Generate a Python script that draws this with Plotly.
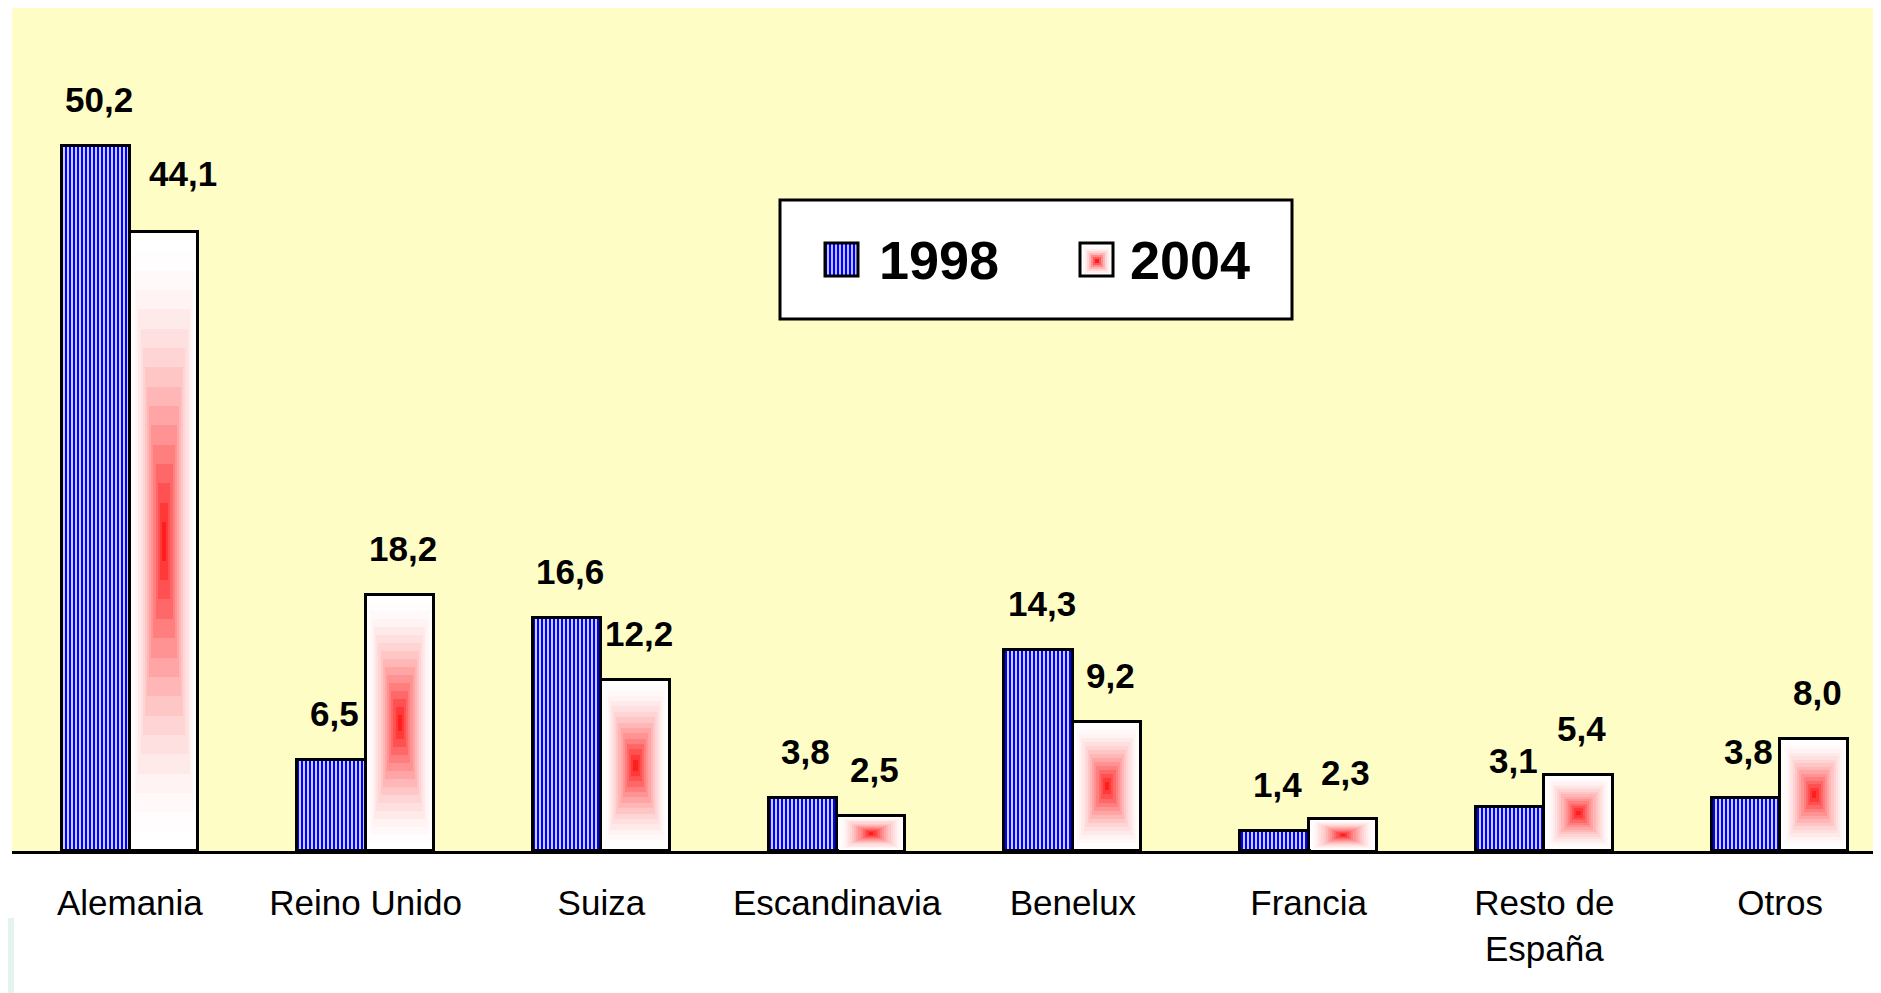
import plotly.graph_objects as go

categories = ["Alemania", "Reino Unido", "Suiza", "Escandinavia", "Benelux",
              "Francia", "Resto de<br>España", "Otros"]
v1998 = [50.2, 6.5, 16.6, 3.8, 14.3, 1.4, 3.1, 3.8]
v2004 = [44.1, 18.2, 12.2, 2.5, 9.2, 2.3, 5.4, 8.0]
series_names = ["1998", "2004"]

# the page body has an 8px margin, so the figure is a bit smaller than the window
PAGE = 8
W, H = 1881 - PAGE, 993 - PAGE
ML, MR, MT, MB = 12 - PAGE, 0, 8 - PAGE, 142
PW, PH = W - ML - MR, H - MT - MB

bw = 0.29          # width of one bar in category units
off = bw / 2
idx = list(range(len(categories)))
x98 = [i - off for i in idx]
x04 = [i + off for i in idx]


def fmt(v):
    return f"{v:.1f}".replace(".", ",")


def red_mix(a):
    g = int(round(255 - 225 * a))
    return f"rgb(255,{g},{g})"


fig = go.Figure()

# 1998: blue vertical stripes
fig.add_trace(go.Bar(
    x=x98, y=v1998, width=[bw] * len(idx), name=series_names[0],
    marker=dict(color="white",
                pattern=dict(shape="|", fgcolor="#0000ff", bgcolor="white",
                             size=4, solidity=0.6, fillmode="replace"),
                line=dict(color="black", width=3)),
    hoverinfo="skip", showlegend=False))

# 2004: rectangular gradient white -> red, drawn as nested bars
N = 16
for k in range(N):
    s = 1 - k / N
    a = (k / (N - 1)) ** 1.8
    fig.add_trace(go.Bar(
        x=x04, y=[v * s for v in v2004], base=[v * (1 - s) / 2 for v in v2004],
        width=[bw * s] * len(idx), name=series_names[1],
        marker=dict(color=red_mix(a),
                    line=dict(color="black", width=3 if k == 0 else 0)),
        hoverinfo="skip", showlegend=False))

# value labels (the first 2004 label sits a little higher and to the right)
for s_i, (xs, vals) in enumerate(((x98, v1998), (x04, v2004))):
    for c_i, (x, v) in enumerate(zip(xs, vals)):
        nudge = (s_i, c_i) == (1, 0)
        fig.add_annotation(x=x, y=v, text=f"<b>{fmt(v)}</b>", showarrow=False,
                           yanchor="bottom",
                           yshift=37 if nudge else 25,
                           xshift=19 if nudge else 3,
                           font=dict(size=35, color="black",
                                     family="Liberation Sans, Arial, sans-serif"))


# custom legend, positions given in window pixels
def px_x(p):
    return (p - PAGE - ML) / PW


def px_y(p):
    return (MT + PH - (p - PAGE)) / PH


shapes = [dict(type="rect", xref="paper", yref="paper",
               x0=px_x(780), x1=px_x(1292), y0=px_y(319), y1=px_y(200),
               fillcolor="white", line=dict(color="black", width=3))]
# 1998 icon
shapes.append(dict(type="rect", xref="paper", yref="paper",
                   x0=px_x(825), x1=px_x(858), y0=px_y(276), y1=px_y(243),
                   fillcolor="#0000ff", line=dict(width=0)))
for j in range(8):
    xx = 828 + j * 4
    shapes.append(dict(type="line", xref="paper", yref="paper",
                       x0=px_x(xx), x1=px_x(xx), y0=px_y(276), y1=px_y(243),
                       line=dict(color="white", width=1.5)))
shapes.append(dict(type="rect", xref="paper", yref="paper",
                   x0=px_x(825), x1=px_x(858), y0=px_y(276), y1=px_y(243),
                   line=dict(color="black", width=3)))
# 2004 icon
cx, cy, half = 1097, 261, 16
for k in range(8):
    s = 1 - k / 8
    a = (k / 7) ** 2
    h = half * s
    shapes.append(dict(type="rect", xref="paper", yref="paper",
                       x0=px_x(cx - h), x1=px_x(cx + h), y0=px_y(cy + h), y1=px_y(cy - h),
                       fillcolor=red_mix(a), line=dict(width=0)))
shapes.append(dict(type="rect", xref="paper", yref="paper",
                   x0=px_x(1080), x1=px_x(1113), y0=px_y(276), y1=px_y(243),
                   line=dict(color="black", width=3)))
# faint green strip bottom-left
shapes.append(dict(type="rect", xref="paper", yref="paper",
                   x0=px_x(PAGE), x1=px_x(PAGE + 6), y0=px_y(993), y1=px_y(918),
                   fillcolor="#e4f4ec", line=dict(width=0), layer="below"))

for name, xp in ((series_names[0], 877), (series_names[1], 1128)):
    fig.add_annotation(xref="paper", yref="paper", x=px_x(xp), y=px_y(260),
                       text=f"<b>{name}</b>", showarrow=False,
                       xanchor="left", yanchor="middle",
                       font=dict(size=54, color="black",
                                 family="Liberation Sans, Arial, sans-serif"))

fig.update_layout(
    width=W, height=H,
    margin=dict(l=ML, r=MR, t=MT, b=MB, pad=0),
    paper_bgcolor="white",
    plot_bgcolor="#fffdc6",
    barmode="overlay",
    bargap=0,
    shapes=shapes,
    showlegend=False,
    hovermode=False,
    font=dict(family="Liberation Sans, Arial, sans-serif", color="black"),
)
fig.update_xaxes(range=[-0.5, 7.428], tickvals=idx, ticktext=categories,
                 tickfont=dict(size=35, color="black"), ticks="",
                 ticklabelstandoff=19,
                 showline=True, linecolor="black", linewidth=3,
                 showgrid=False, zeroline=False)
fig.update_yaxes(range=[0, 60.04], visible=False, showgrid=False, zeroline=False)

fig.write_html("out.html")
